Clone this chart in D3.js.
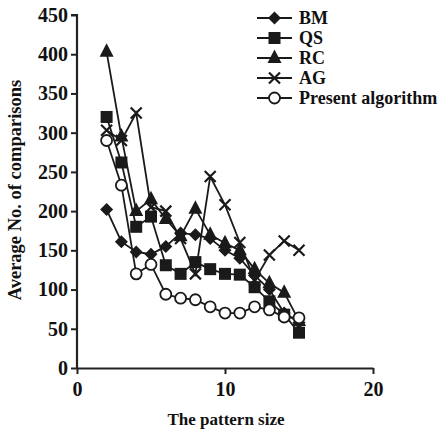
<!DOCTYPE html>
<html>
<head>
<meta charset="utf-8">
<script src="https://cdn.jsdelivr.net/npm/d3@7"></script>
<style>
  body { margin: 0; background: #fff; }
  svg text { font-family: "Liberation Serif", "Times New Roman", serif; font-weight: bold; fill: #111; }
</style>
</head>
<body>
<svg width="440" height="433"></svg>
<script>
// pattern sizes on the x axis
let patternSize = [2, 3, 4, 5, 6, 7, 8, 9, 10, 11, 12, 13, 14, 15];

// average number of comparisons
let bm = [202, 161, 148, 145, 155, 172, 170, 165, 150, 140, 118, 100, 70, 58];
let qs = [320, 262, 180, 193, 131, 120, 135, 126, 120, 119, 103, 85, 68, 45];
let rc = [403, 295, 200, 215, 190, 168, 203, 170, 159, 150, 126, 108, 96, 60];
let ag = [303, 290, 325, 205, 200, 165, 120, 244, 208, 160, 112, 144, 162, 150];
let present = [290, 233, 120, 132, 94, 89, 87, 78, 70, 70, 78, 74, 65, 64];

let seriesNames = ["BM", "QS", "RC", "AG", "Present algorithm"];
let seriesShapes = ["diamond", "square", "triangle", "cross", "circle"];
let xTicks = [0, 10, 20];
let yTicks = [0, 50, 100, 150, 200, 250, 300, 350, 400, 450];

let svg = d3.select("svg");

let x = d3.scaleLinear().domain([0, 20]).range([77, 373]);
let y = d3.scaleLinear().domain([0, 450]).range([368, 15]);

let allSeries = [bm, qs, rc, ag, present].map(function(vals, i) {
  return {
    name: seriesNames[i],
    shape: seriesShapes[i],
    values: vals.map(function(v, j) { return {x: patternSize[j], y: v}; })
  };
});

// axes
let yAxis = svg.append("g")
    .attr("transform", "translate(" + x(0) + ",0)")
    .call(d3.axisLeft(y).tickValues(yTicks).tickSize(6).tickPadding(3).tickFormat(d3.format("d")));

let xAxis = svg.append("g")
    .attr("transform", "translate(0," + y(0) + ")")
    .call(d3.axisBottom(x).tickValues(xTicks).tickSize(6).tickPadding(8).tickSizeOuter(0).tickFormat(d3.format("d")));

[xAxis, yAxis].forEach(function(a) {
  a.select(".domain").attr("stroke", "#222").attr("stroke-width", 2.2);
  a.selectAll(".tick line").attr("stroke", "#222").attr("stroke-width", 2);
  a.selectAll(".tick text").style("font-size", "20px").attr("fill", "#111");
});
yAxis.select(".domain").attr("d", "M-6," + y(450) + "H0V" + (y(0) + 1));

// axis titles
svg.append("text")
    .attr("x", 226)
    .attr("y", 425)
    .attr("text-anchor", "middle")
    .style("font-size", "17px")
    .text("The pattern size");

svg.append("text")
    .attr("transform", "translate(21,190) rotate(-90)")
    .attr("text-anchor", "middle")
    .style("font-size", "18.5px")
    .text("Average No. of comparisons");

// markers
function drawMarker(g, shape) {
  if (shape === "diamond") {
    g.append("path").attr("d", "M0,-6.5L6.5,0L0,6.5L-6.5,0Z").attr("fill", "#1a1a1a");
  } else if (shape === "square") {
    g.append("rect").attr("x", -6).attr("y", -6).attr("width", 12).attr("height", 12).attr("fill", "#1a1a1a");
  } else if (shape === "triangle") {
    g.append("path").attr("d", "M0,-8.5L7,5L-7,5Z").attr("fill", "#1a1a1a");
  } else if (shape === "cross") {
    g.append("path").attr("d", "M-5.5,-5.5L5.5,5.5M-5.5,5.5L5.5,-5.5").attr("stroke", "#1a1a1a").attr("stroke-width", 2.2);
  } else {
    g.append("circle").attr("r", 5.5).attr("fill", "#fff").attr("stroke", "#1a1a1a").attr("stroke-width", 1.8);
  }
}

let line = d3.line()
    .x(function(d) { return x(d.x); })
    .y(function(d) { return y(d.y); });

let series = svg.selectAll(".series")
  .data(allSeries)
  .enter().append("g")
    .attr("class", "series");

series.append("path")
    .attr("d", function(d) { return line(d.values); })
    .attr("fill", "none")
    .attr("stroke", "#1a1a1a")
    .attr("stroke-width", 1.8);

series.each(function(s) {
  d3.select(this).selectAll(".pt")
    .data(s.values)
    .enter().append("g")
      .attr("class", "pt")
      .attr("transform", function(d) { return "translate(" + x(d.x) + "," + y(d.y) + ")"; })
      .each(function() { drawMarker(d3.select(this), s.shape); });
});

// legend
let legend = svg.selectAll(".legend")
  .data(allSeries)
  .enter().append("g")
    .attr("class", "legend")
    .attr("transform", function(d, i) { return "translate(257," + (18 + i * 20) + ")"; });

legend.append("line")
    .attr("x1", 0).attr("x2", 35)
    .attr("stroke", "#1a1a1a").attr("stroke-width", 1.8);

legend.each(function(d) {
  let g = d3.select(this).append("g").attr("transform", "translate(17.5,0)");
  drawMarker(g, d.shape);
});

legend.append("text")
    .attr("x", 42)
    .attr("dy", "0.35em")
    .style("font-size", "18px")
    .text(function(d) { return d.name; });
</script>
</body>
</html>
